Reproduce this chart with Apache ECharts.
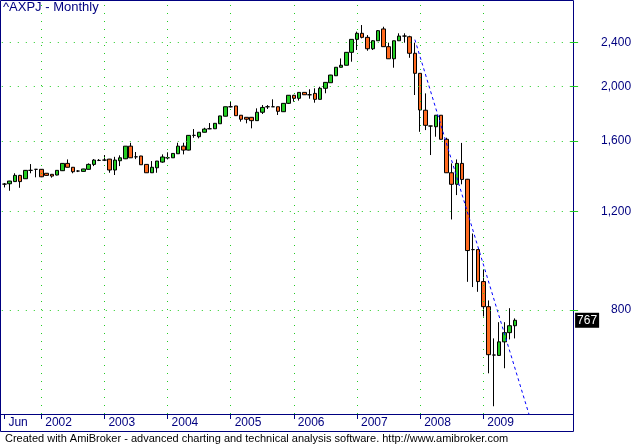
<!DOCTYPE html>
<html>
<head>
<meta charset="utf-8">
<script src="https://cdn.jsdelivr.net/npm/echarts@6/dist/echarts.min.js"></script>
<style>
  html, body { margin: 0; padding: 0; background: #fff; }
  #chart { width: 634px; height: 445px; }
</style>
</head>
<body>
<div id="chart"></div>
<script>
// monthly bars, Jun 2001 .. Jul 2009
const opens = [
  1341, 1343, 1355, 1390, 1371, 1419, 1425, 1425, 1402, 1396, 1392, 1417, 1460, 1437, 1415, 1413, 1425, 1454, 1478, 1480,
  1486, 1421, 1476, 1488, 1567, 1500, 1505, 1454, 1405, 1434, 1468, 1494, 1494, 1519, 1567, 1542, 1638, 1629, 1659, 1683,
  1683, 1718, 1772, 1842, 1848, 1779, 1764, 1764, 1740, 1801, 1842, 1842, 1842, 1805, 1868, 1931, 1907, 1954, 1935, 1946,
  1899, 1987, 2033, 2092, 2166, 2184, 2303, 2429, 2490, 2449, 2337, 2415, 2535, 2357, 2243, 2415, 2462, 2455, 2294, 2113,
  1816, 1702, 1697, 1779, 1612, 1405, 1340, 1460, 1368, 1025, 1025, 899, 811, 665, 664, 702, 729, 750
];
const closes = [
  1341, 1358, 1390, 1355, 1419, 1419, 1425, 1382, 1390, 1386, 1419, 1460, 1437, 1411, 1415, 1427, 1454, 1480, 1478, 1480,
  1421, 1480, 1494, 1567, 1494, 1500, 1452, 1405, 1437, 1474, 1499, 1494, 1521, 1567, 1542, 1638, 1638, 1659, 1681, 1683,
  1721, 1774, 1842, 1842, 1776, 1750, 1750, 1740, 1801, 1837, 1842, 1842, 1808, 1868, 1931, 1907, 1954, 1935, 1935, 1899,
  1987, 2036, 2098, 2166, 2184, 2303, 2429, 2490, 2449, 2337, 2415, 2517, 2357, 2243, 2415, 2462, 2462, 2294, 2113, 1818,
  1707, 1702, 1779, 1612, 1405, 1340, 1460, 1367, 1021, 1025, 899, 811, 666, 665, 702, 729, 750, 767
];
const lows = [
  1323, 1305, 1354, 1321, 1370, 1402, 1379, 1380, 1388, 1377, 1390, 1415, 1436, 1402, 1409, 1412, 1424, 1444, 1474, 1474,
  1405, 1392, 1444, 1486, 1493, 1486, 1451, 1404, 1404, 1405, 1464, 1484, 1493, 1518, 1515, 1540, 1622, 1618, 1658, 1680,
  1682, 1717, 1771, 1837, 1775, 1733, 1721, 1686, 1739, 1788, 1825, 1840, 1781, 1804, 1863, 1881, 1889, 1934, 1904, 1873,
  1898, 1947, 2032, 2090, 2165, 2183, 2216, 2325, 2439, 2318, 2325, 2414, 2356, 2242, 2162, 2414, 2396, 2252, 1933, 1662,
  1674, 1511, 1629, 1611, 1404, 1160, 1282, 1340, 898, 879, 862, 779, 617, 539, 663, 630, 709, 712
];
const highs = [
  1347, 1359, 1402, 1393, 1421, 1456, 1427, 1426, 1403, 1397, 1420, 1461, 1484, 1438, 1420, 1428, 1460, 1486, 1486, 1511,
  1487, 1500, 1509, 1568, 1589, 1530, 1506, 1455, 1474, 1475, 1515, 1528, 1522, 1589, 1589, 1640, 1681, 1660, 1690, 1723,
  1722, 1775, 1843, 1881, 1849, 1780, 1765, 1765, 1830, 1855, 1855, 1899, 1843, 1869, 1932, 1934, 1955, 1955, 1979, 1987,
  2000, 2038, 2100, 2168, 2246, 2305, 2430, 2507, 2576, 2472, 2422, 2524, 2558, 2396, 2416, 2490, 2490, 2465, 2396, 2114,
  1946, 1704, 1780, 1780, 1622, 1460, 1484, 1588, 1370, 1095, 1026, 943, 832, 712, 761, 761, 806, 773
];

// dashed trend line (two points)
const trendCats = ["2007-12", "2009-10"];
const trendVals = [2426, 510];

// y grid / labels
const yTicks = [800, 1200, 1600, 2000, 2400];

// month categories incl. blank space on the right
const categories = [];
for (let i = 0; i < 108; i++) {
  const m = 5 + i;
  categories.push((2001 + Math.floor(m / 12)) + "-" + String((m % 12) + 1).padStart(2, "0"));
}

const navy = "#000080";
const gridGreen = "#22cc22";
const isMarked = (i) => i < opens.length && (i === 0 || categories[i].slice(5) === "01");
const yearCats = categories.filter((c, i) => i > 0 && isMarked(i));

const candles = opens.map((o, i) => [o, closes[i], lows[i], highs[i]]);
const lastClose = closes[closes.length - 1];

const chartDom = document.getElementById("chart");
const myChart = echarts.init(chartDom);

const option = {
  animation: false,
  textStyle: { fontFamily: "Liberation Sans, Arial, sans-serif" },
  title: [
    {
      text: "^AXPJ - Monthly",
      left: 3,
      top: 1,
      padding: 0,
      textStyle: { color: navy, fontSize: 13, fontWeight: "normal" },
    },
    {
      text: "Created with AmiBroker - advanced charting and technical analysis software. http://www.amibroker.com",
      left: 5,
      top: 433,
      padding: 0,
      textStyle: { color: "#000", fontSize: 11, fontWeight: "normal" },
    },
  ],
  grid: { left: 1.8, top: 1, width: 568.3, height: 413 },
  xAxis: {
    type: "category",
    data: categories,
    boundaryGap: true,
    axisLine: { show: false },
    axisTick: {
      show: true,
      alignWithLabel: true,
      length: 5,
      interval: (i) => isMarked(i),
      lineStyle: { color: navy },
    },
    axisLabel: {
      interval: (i) => isMarked(i),
      formatter: (v, i) => (i === 0 ? "Jun" : v.slice(0, 4)),
      align: "left",
      padding: [0, 0, 0, 4],
      margin: 3,
      color: navy,
      fontSize: 12,
    },
    splitLine: { show: false },
  },
  yAxis: {
    type: "log",
    logBase: 10,
    min: 522.1,
    max: 2843,
    position: "right",
    axisLine: { show: false },
    axisTick: {
      show: true,
      customValues: yTicks,
      length: 8,
      lineStyle: { color: gridGreen },
    },
    axisLabel: { show: false },
    splitLine: { show: false },
  },
  series: [
    {
      name: "AXPJ",
      type: "candlestick",
      data: candles,
      barWidth: 4,
      itemStyle: {
        color: gridGreen,
        color0: "#ff6a1f",
        borderColor: "#000",
        borderColor0: "#000",
        borderColorDoji: "#000",
        borderWidth: 1,
      },
      markLine: {
        silent: true,
        symbol: ["none", "none"],
        animation: false,
        lineStyle: { color: gridGreen, type: [1, 7], width: 1 },
        label: {
          position: "end",
          align: "right",
          distance: 61,
          color: navy,
          fontSize: 12,
          formatter: (p) => Math.round(p.value).toLocaleString("en-US"),
        },
        data: yTicks
          .map((v) => ({ yAxis: v }))
          .concat([
            {
              yAxis: lastClose,
              lineStyle: { color: "rgba(0,0,0,0)", width: 0 },
              label: {
                show: true,
                position: "end",
                align: "left",
                distance: 5,
                color: "#fff",
                backgroundColor: "#000",
                padding: [2, 2, 1, 2],
                formatter: (p) => String(Math.round(p.value)),
              },
            },
          ]),
      },
    },
    {
      name: "trend",
      type: "line",
      data: trendCats.map((c, i) => [c, trendVals[i]]),
      showSymbol: false,
      clip: true,
      lineStyle: { color: "#0000ff", width: 1, type: [3, 3] },
      markLine: {
        silent: true,
        symbol: ["none", "none"],
        animation: false,
        label: { show: false },
        lineStyle: { color: gridGreen, type: [1, 7], width: 1 },
        data: yearCats.map((c) => ({ xAxis: c })),
      },
    },
  ],
  graphic: [
    {
      type: "rect",
      silent: true,
      shape: { x: 0.5, y: 0.5, width: 573, height: 431 },
      style: { fill: null, stroke: navy, lineWidth: 1 },
    },
    {
      type: "line",
      silent: true,
      shape: { x1: 0, y1: 414.5, x2: 574, y2: 414.5 },
      style: { stroke: navy, lineWidth: 1 },
    },
  ],
};

option && myChart.setOption(option);
</script>
</body>
</html>
